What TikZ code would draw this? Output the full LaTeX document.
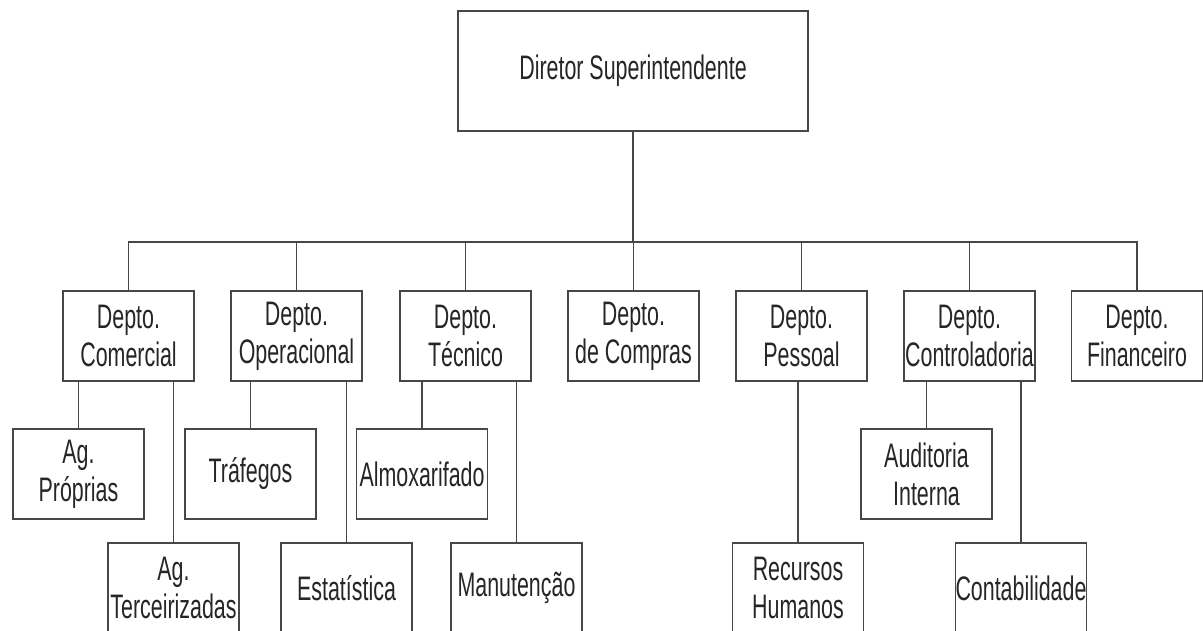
\documentclass[tikz,border=0pt]{standalone}
\usepackage{fontspec}
\setmainfont[FakeStretch=0.63]{Liberation Sans}
\tikzset{
  orgbox/.style={draw=black!72, line width=1.7pt, fill=white, minimum width=131pt,
    minimum height=90pt, inner sep=0pt, align=center,
    font=\fontsize{34}{38}\selectfont, text=black!85},
  link/.style={draw=black!72, line width=1.7pt}
}
\begin{document}
\begin{tikzpicture}[x=1pt,y=-1pt]
\useasboundingbox (0,0) rectangle (1203,630);
\clip (0,0) rectangle (1203,630);
\fill[white] (0,0) rectangle (1203,630);

% head of the organisation
\node[orgbox, minimum width=350pt, minimum height=120pt] (dir) at (633,71) {Diretor Superintendente};

% departments
\node[orgbox] (com) at (128.5,336) {Depto.\\Comercial};
\node[orgbox] (ope) at (296.5,336) {Depto.\\Operacional};
\node[orgbox] (tec) at (465.5,336) {Depto.\\Técnico};
\node[orgbox] (cmp) at (633.5,336) {Depto.\\de Compras};
\node[orgbox] (pes) at (801.5,336) {Depto.\\Pessoal};
\node[orgbox] (ctl) at (969.5,336) {Depto.\\Controladoria};
\node[orgbox] (fin) at (1137,336) {Depto.\\Financeiro};

% sections
\node[orgbox] (agp) at (78.5,474) {Ag.\\Próprias};
\node[orgbox] (agt) at (173.5,588) {Ag.\\Terceirizadas};
\node[orgbox] (tra) at (250.5,474) {Tráfegos};
\node[orgbox] (est) at (346.5,588) {Estatística};
\node[orgbox] (alm) at (422,474) {Almoxarifado};
\node[orgbox] (man) at (516.5,588) {Manutenção};
\node[orgbox] (rh)  at (798,588) {Recursos\\Humanos};
\node[orgbox] (aud) at (926.5,474) {Auditoria\\Interna};
\node[orgbox] (cnt) at (1021,588) {Contabilidade};

% main bus
\coordinate (bus) at (633,242);
\draw[link] (dir.south) -- (bus);
\foreach \d in {com,ope,tec,cmp,pes,ctl,fin}
  \draw[link] (\d.north) |- (bus);

% department to section links
\draw[link] (com.south -| agp.north) -- (agp.north);
\draw[link] (com.south -| agt.north) -- (agt.north);
\draw[link] (ope.south -| tra.north) -- (tra.north);
\draw[link] (ope.south -| est.north) -- (est.north);
\draw[link] (tec.south -| alm.north) -- (alm.north);
\draw[link] (tec.south -| man.north) -- (man.north);
\draw[link] (pes.south -| rh.north) -- (rh.north);
\draw[link] (ctl.south -| aud.north) -- (aud.north);
\draw[link] (ctl.south -| cnt.north) -- (cnt.north);
\end{tikzpicture}
\end{document}
